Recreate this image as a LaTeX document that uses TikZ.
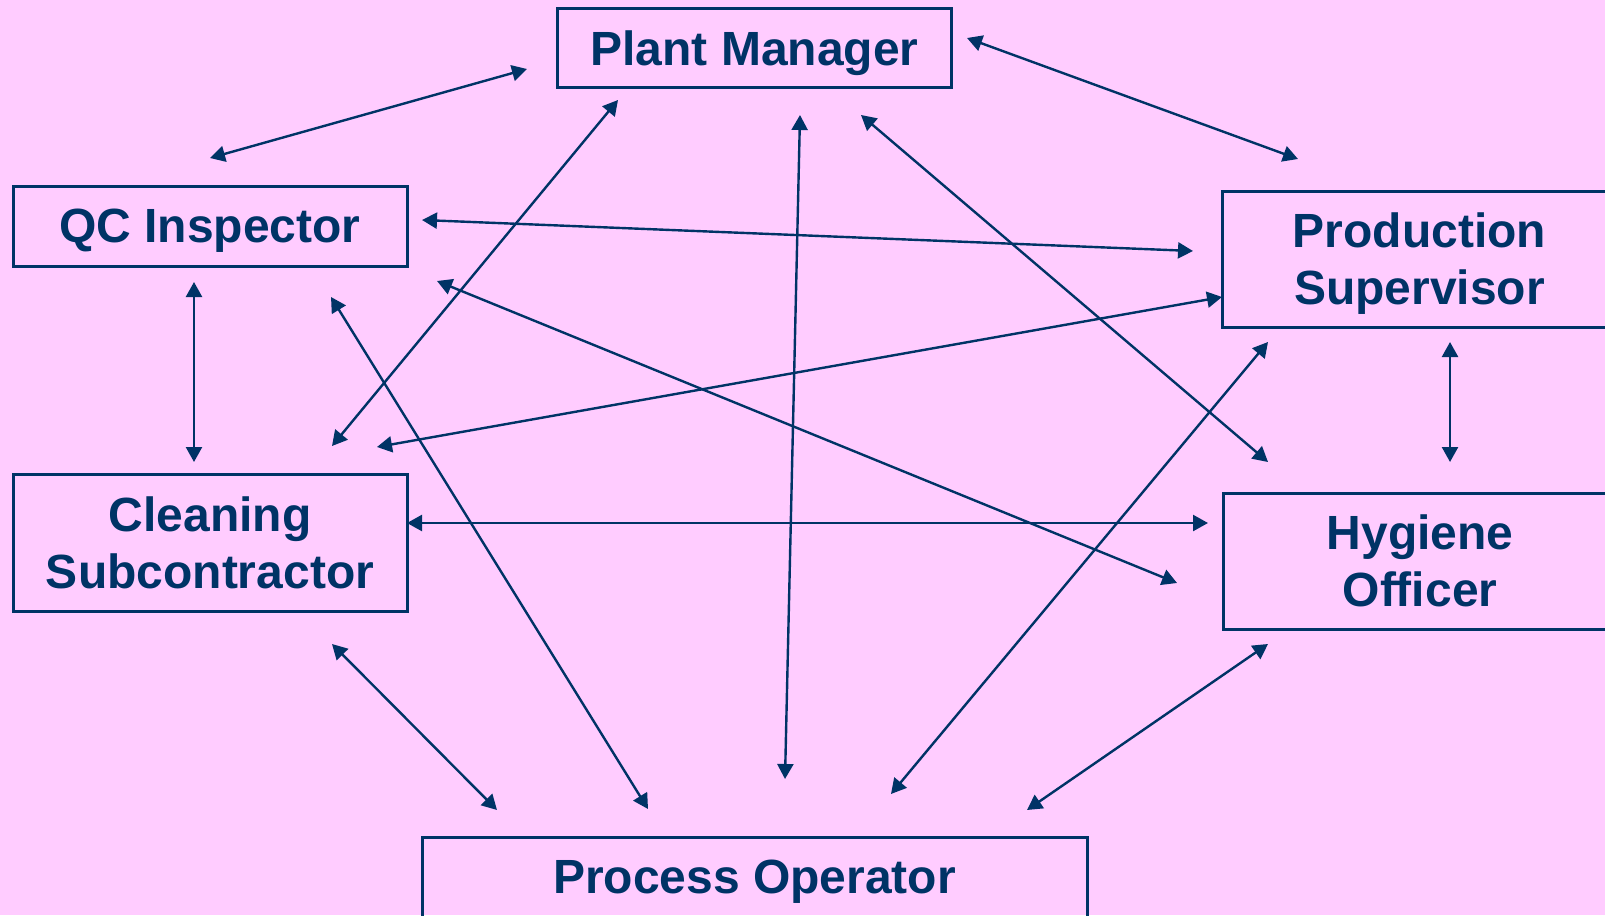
\documentclass[tikz,border=0pt]{standalone}
\usepackage{fontspec}
\setmainfont{Liberation Sans}
\usetikzlibrary{arrows.meta}
\definecolor{navy}{HTML}{003366}
\definecolor{pinkbg}{HTML}{FFCCFF}
\tikzset{
  role/.style={draw=navy, line width=1.5pt, text=navy, align=center, inner sep=0pt,
    text depth=0pt, minimum width=197pt, font=\fontsize{24}{28.5}\selectfont\bfseries},
  link/.style={navy, line width=1.2pt,
    {Triangle[length=7.5pt,width=8pt]}-{Triangle[length=7.5pt,width=8pt]}}
}
\begin{document}
\begin{tikzpicture}[x=0.5pt,y=-0.5pt]
  \fill[pinkbg] (0,0) rectangle (1605,915);
  \useasboundingbox (0,0) rectangle (1605,915);
  % roles
  \node[role, minimum height=39.5pt] (plant) at (754.5,48.5) {Plant Manager};
  \node[role, minimum height=40pt] (qc) at (210,226) {QC Inspector};
  \node[role, minimum height=68pt] (prod) at (1419.5,259) {Production\\Supervisor};
  \node[role, minimum height=68pt] (hyg) at (1420,561) {Hygiene\\Officer};
  \node[role, minimum height=68.5pt] (clean) at (210,542.5) {Cleaning\\Subcontractor};
  \node[role, minimum width=332.5pt, minimum height=40pt] (proc) at (754.5,877) {Process Operator};
  % arrow ends near each box
  \coordinate (plant1) at (527,69);
  \coordinate (plant2) at (618,100);
  \coordinate (plant3) at (800,115);
  \coordinate (plant4) at (861,115);
  \coordinate (plant5) at (967,38);
  \coordinate (qc1) at (210,158);
  \coordinate (qc2) at (422,220);
  \coordinate (qc3) at (194,282);
  \coordinate (qc4) at (331,297);
  \coordinate (qc5) at (437,281);
  \coordinate (prod1) at (1298,159);
  \coordinate (prod2) at (1193,251);
  \coordinate (prod3) at (1222,297);
  \coordinate (prod4) at (1268,342);
  \coordinate (prod5) at (1450,342);
  \coordinate (hyg1) at (1268,462);
  \coordinate (hyg2) at (1177,583);
  \coordinate (hyg3) at (1208,523);
  \coordinate (hyg4) at (1450,462);
  \coordinate (hyg5) at (1268,644);
  \coordinate (clean1) at (194,462);
  \coordinate (clean2) at (332,446);
  \coordinate (clean3) at (377,447);
  \coordinate (clean4) at (407,523);
  \coordinate (clean5) at (332,644);
  \coordinate (proc1) at (497,810);
  \coordinate (proc2) at (648,809);
  \coordinate (proc3) at (785,779);
  \coordinate (proc4) at (891,794);
  \coordinate (proc5) at (1027,810);
  % links
  \draw[link] (qc1) -- (plant1);
  \draw[link] (plant5) -- (prod1);
  \draw[link] (qc2) -- (prod2);
  \draw[link] (qc3) -- (clean1);
  \draw[link] (plant2) -- (clean2);
  \draw[link] (plant3) -- (proc3);
  \draw[link] (plant4) -- (hyg1);
  \draw[link] (qc4) -- (proc2);
  \draw[link] (qc5) -- (hyg2);
  \draw[link] (prod3) -- (clean3);
  \draw[link] (clean4) -- (hyg3);
  \draw[link] (prod4) -- (proc4);
  \draw[link] (prod5) -- (hyg4);
  \draw[link] (clean5) -- (proc1);
  \draw[link] (hyg5) -- (proc5);
\end{tikzpicture}
\end{document}
